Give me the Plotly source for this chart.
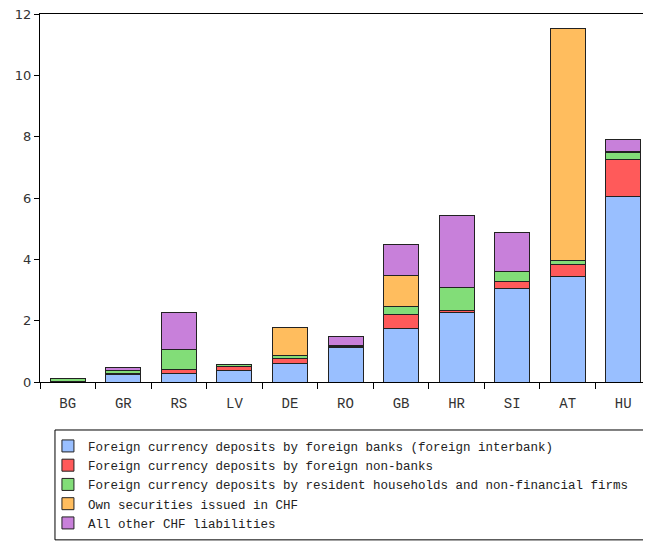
import plotly.graph_objects as go

countries = ["BG", "GR", "RS", "LV", "DE", "RO", "GB", "HR", "SI", "AT", "HU"]
fx_foreign_banks = [0.02, 0.26, 0.28, 0.38, 0.61, 1.12, 1.75, 2.26, 3.04, 3.43, 6.05]
fx_foreign_nonbanks = [0.01, 0.03, 0.14, 0.13, 0.15, 0.03, 0.44, 0.08, 0.23, 0.41, 1.20]
fx_resident = [0.07, 0.10, 0.65, 0.05, 0.09, 0.03, 0.28, 0.74, 0.32, 0.13, 0.24]
own_securities = [0.0, 0.0, 0.0, 0.0, 0.94, 0.0, 0.99, 0.0, 0.0, 7.57, 0.04]
other_chf = [0.0, 0.09, 1.19, 0.0, 0.0, 0.29, 1.04, 2.34, 1.29, 0.0, 0.38]

series_names = [
    "Foreign currency deposits by foreign banks (foreign interbank)",
    "Foreign currency deposits by foreign non-banks",
    "Foreign currency deposits by resident households and non-financial firms",
    "Own securities issued in CHF",
    "All other CHF liabilities",
]
series_values = [fx_foreign_banks, fx_foreign_nonbanks, fx_resident, own_securities, other_chf]
colors = ["#99BFFF", "#FF5A5A", "#82DD78", "#FFBD5E", "#C880DA"]

fig = go.Figure()
for name, vals, c in zip(series_names, series_values, colors):
    fig.add_trace(go.Bar(
        x=countries, y=vals, name=name,
        marker=dict(color=c, line=dict(color="#222222", width=1)),
    ))

# legend frame drawn as a shape so it spans the same width as the original
fig.add_shape(
    type="rect", xref="paper", yref="paper",
    x0=0.0245, x1=0.990, y0=-0.1304, y1=-0.429,
    line=dict(color="black", width=1), fillcolor="rgba(0,0,0,0)",
)

fig.update_layout(
    barmode="stack",
    bargap=0.37,
    width=643, height=534,
    margin=dict(l=32, r=0, t=6, b=160),
    plot_bgcolor="white",
    paper_bgcolor="white",
    showlegend=True,
    legend=dict(
        x=0.013, y=-0.134, xanchor="left", yanchor="top",
        borderwidth=0, bgcolor="rgba(0,0,0,0)",
        font=dict(family="Liberation Mono", size=12.5, color="#222222"),
        traceorder="normal",
        tracegroupgap=0,
    ),
    xaxis=dict(
        showline=True, linecolor="black", linewidth=1, mirror=True,
        ticks="outside", tickson="boundaries", ticklen=6, tickcolor="black",
        ticklabelstandoff=8,
        tickfont=dict(family="Liberation Mono", size=14, color="#333333"),
        showgrid=False,
    ),
    yaxis=dict(
        range=[0, 12], dtick=2,
        showline=True, linecolor="black", linewidth=1,
        ticks="outside", ticklen=5, tickcolor="black",
        ticklabeloverflow="allow",
        tickfont=dict(family="DejaVu Sans", size=13, color="#333333"),
        showgrid=False, zeroline=False,
    ),
)

fig.write_html("out.html")
